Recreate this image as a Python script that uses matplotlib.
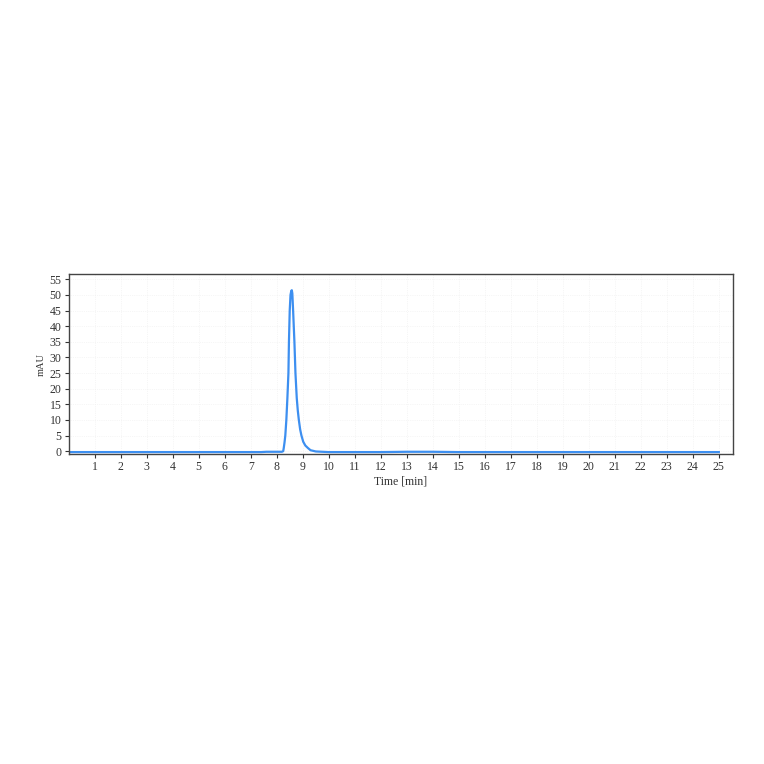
import numpy as np
import matplotlib
matplotlib.use("Agg")
import matplotlib.pyplot as plt

# chromatogram (time in min, signal in mAU)
time_min = [0.0, 2.0, 4.0, 6.0, 7.4, 7.6, 8.0, 8.2, 8.25, 8.27, 8.30, 8.33, 8.37,
            8.41, 8.45, 8.47, 8.50, 8.53, 8.56, 8.58, 8.60, 8.63, 8.66, 8.68,
            8.72, 8.77, 8.81, 8.85, 8.90, 8.95, 9.02, 9.10, 9.20, 9.30, 9.5,
            10.0, 12.0, 13.0, 14.0, 15.0, 17.0, 20.0, 23.0, 25.0]
signal_mau = [-0.3, -0.3, -0.3, -0.3, -0.3, -0.2, -0.2, -0.2, 0.0, 1.0, 2.8, 5.0, 10.0,
              17.0, 25.0, 35.0, 45.0, 50.0, 51.3, 51.5, 50.5, 45.0, 39.0, 35.0,
              25.0, 17.0, 13.0, 10.0, 7.0, 5.0, 3.0, 1.8, 1.0, 0.3, -0.1,
              -0.3, -0.3, -0.2, -0.2, -0.3, -0.3, -0.3, -0.3, -0.3]

x_ticks = list(range(1, 26))
y_ticks = list(range(0, 56, 5))

plt.rcParams['font.family'] = ['Liberation Serif', 'DejaVu Serif']

fig = plt.figure(figsize=(7.64, 7.64), dpi=100)
ax = fig.add_axes([0.0899, 0.4054, 0.869, 0.2356])

ax.plot(time_min, signal_mau, color='#3d8ff0', lw=1.6)

ax.set_xlim(0, 25.53)
ax.set_ylim(-1.0, 56.6)
ax.set_xticks(x_ticks)
ax.set_yticks(y_ticks)
ax.tick_params(labelsize=8.5, length=3, width=0.8, colors='#333333', pad=2)
ax.grid(True, color='#eeeeee', linestyle=':', linewidth=0.5)

for s in ax.spines.values():
    s.set_color('#444444')
    s.set_linewidth(1.0)

ax.set_xlabel('Time [min]', fontsize=8.5, color='#333333', labelpad=2)
ax.set_ylabel('mAU', fontsize=7.5, color='#333333', labelpad=3)

fig.savefig('out.png', dpi=100, facecolor='white')
